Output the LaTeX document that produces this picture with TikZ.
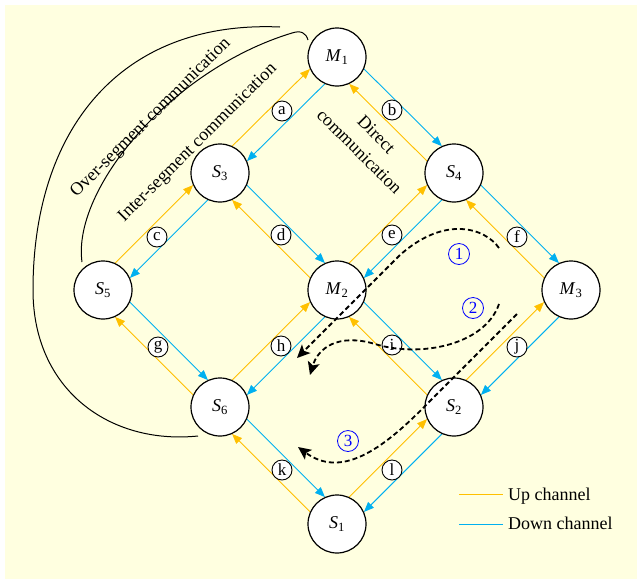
\documentclass[tikz,border=0pt]{standalone}
\usepackage{fontspec}
\setmainfont{Liberation Serif}
\usetikzlibrary{calc,arrows.meta}
\definecolor{bgyellow}{RGB}{255,255,224}
\definecolor{upcol}{RGB}{255,192,0}
\definecolor{downcol}{RGB}{0,176,240}

% one pair of channels between a lower station (#1) and an upper station (#2);
% each arrow runs on the left of its own direction of travel
\newcommand\chanpair[2]{%
  \draw[upch] ($(#1)!27.6pt!(#2)!10.5pt!90:(#2)$) -- ($(#2)!27.6pt!(#1)!10.5pt!-90:(#1)$);
  \draw[downch] ($(#2)!27.6pt!(#1)!10.5pt!90:(#1)$) -- ($(#1)!27.6pt!(#2)!10.5pt!-90:(#2)$);
}

\begin{document}
\begin{tikzpicture}[x=1pt,y=-1pt,
  font=\fontsize{18}{21}\selectfont,
  station/.style={circle,draw,fill=white,line width=1.2pt,minimum size=58pt,inner sep=0pt},
  tag/.style={circle,draw,fill=white,line width=0.9pt,minimum size=20pt,inner sep=0pt,font=\fontsize{17}{17}\selectfont},
  route/.style={circle,draw=blue,text=blue,line width=0.8pt,minimum size=21pt,inner sep=0pt,font=\fontsize{17}{17}\selectfont},
  upch/.style={upcol,line width=0.9pt,-{Triangle[length=10pt,width=8pt]}},
  downch/.style={downcol,line width=0.9pt,-{Triangle[length=10pt,width=8pt]}},
  flow/.style={black,line width=1.8pt,dash pattern=on 5pt off 3pt,-{Stealth[length=13pt,width=12pt,inset=3pt]}},
  bracket/.style={black,line width=1pt}
]
\useasboundingbox (0,0) rectangle (637,579);
\fill[bgyellow] (5,5) rectangle (637,579);

% stations
\coordinate (M1) at (337,57);
\coordinate (S3) at (220,173);
\coordinate (S4) at (454,173);
\coordinate (S5) at (103,290);
\coordinate (M2) at (337,290);
\coordinate (M3) at (571,290);
\coordinate (S6) at (220,407);
\coordinate (S2) at (454,407);
\coordinate (S1) at (337,524);

% channels (lower station, upper station)
\chanpair{S3}{M1}
\chanpair{S4}{M1}
\chanpair{S5}{S3}
\chanpair{M2}{S3}
\chanpair{M2}{S4}
\chanpair{M3}{S4}
\chanpair{S6}{S5}
\chanpair{S6}{M2}
\chanpair{S2}{M2}
\chanpair{S2}{M3}
\chanpair{S1}{S6}
\chanpair{S1}{S2}

\node[station] (nM1) at (M1) {\textit{M}\textsubscript{1}};
\node[station] (nS3) at (S3) {\textit{S}\textsubscript{3}};
\node[station] (nS4) at (S4) {\textit{S}\textsubscript{4}};
\node[station] (nS5) at (S5) {\textit{S}\textsubscript{5}};
\node[station] (nM2) at (M2) {\textit{M}\textsubscript{2}};
\node[station] (nM3) at (M3) {\textit{M}\textsubscript{3}};
\node[station] (nS6) at (S6) {\textit{S}\textsubscript{6}};
\node[station] (nS2) at (S2) {\textit{S}\textsubscript{2}};
\node[station] (nS1) at (S1) {\textit{S}\textsubscript{1}};

% channel tags
\node[tag] (ta) at (282,111) {a};
\node[tag] (tb) at (392,110) {b};
\node[tag] (tc) at (157,237) {c};
\node[tag] (td) at (281,235) {d};
\node[tag] (te) at (392,235) {e};
\node[tag] (tf) at (517,237) {f};
\node[tag] (tg) at (158,347) {g};
\node[tag] (th) at (281,346) {h};
\node[tag] (ti) at (392,345) {i};
\node[tag] (tj) at (517,347) {j};
\node[tag] (tk) at (282,470) {k};
\node[tag] (tl) at (392,470) {l};

% communication routes
\coordinate (r1s) at (499,248);
\coordinate (r1m) at (400,255);
\coordinate (r1e) at (297,358);
\draw[flow] (r1s) .. controls (485,228) and (445,215) .. (r1m) -- (r1e);

\coordinate (r2s) at (499,304);
\coordinate (r2m) at (375,344);
\coordinate (r2e) at (310,375);
\draw[flow] (r2s) .. controls (485,345) and (420,358) .. (r2m)
  .. controls (338,333) and (318,348) .. (r2e);

\coordinate (r3s) at (517,314);
\coordinate (r3m) at (425,406);
\coordinate (r3e) at (298,447);
\draw[flow] (r3s) -- (r3m) .. controls (380,452) and (340,478) .. (r3e);

\node[route] (n1) at (459,254) {1};
\node[route] (n2) at (473,308) {2};
\node[route] (n3) at (348,441) {3};

% brackets of the communication ranges
\coordinate (ob1) at (280,27);
\coordinate (ob2) at (33,290);
\coordinate (ob3) at (198,436);
\draw[bracket] (ob1) .. controls (120,20) and (33,130) .. (ob2)
  .. controls (33,390) and (110,445) .. (ob3);

\coordinate (ib1) at (82,262);
\coordinate (ib2) at (292,33);
\coordinate (ib3) at (308,40);
\draw[bracket] (ib1) .. controls (72,190) and (170,70) .. (ib2)
  .. controls (301,30) and (306,33) .. (ib3);

\node[rotate=45] (tover) at (151,118) {Over-segment communication};
\node[rotate=45] (tinter) at (198,143) {Inter-segment communication};
\node[rotate=-45,align=center,font=\fontsize{18}{24}\selectfont] (tdirect) at (368,143) {Direct\\communication};

% legend
\coordinate (lu1) at (459,494);
\coordinate (lu2) at (503,494);
\coordinate (ld1) at (459,524);
\coordinate (ld2) at (503,524);
\draw[upcol,line width=0.9pt] (lu1) -- (lu2);
\draw[downcol,line width=0.9pt] (ld1) -- (ld2);
\node[anchor=base west,inner sep=0pt] (lut) at (508,500) {Up channel};
\node[anchor=base west,inner sep=0pt] (ldt) at (508,529) {Down channel};
\end{tikzpicture}
\end{document}
